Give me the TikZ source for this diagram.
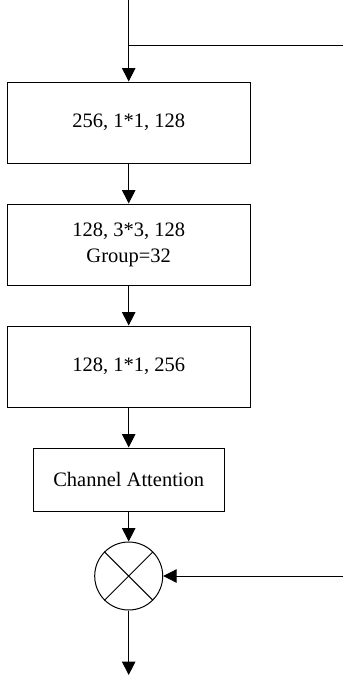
\documentclass[tikz,border=0pt]{standalone}
\usepackage{fontspec}
\setmainfont{Liberation Serif}
\usetikzlibrary{arrows.meta}
\begin{document}
\begin{tikzpicture}[x=1pt,y=-1pt, line width=1pt,
  box/.style={draw, rectangle, inner sep=0pt, align=center, font=\fontsize{20.5}{26}\selectfont},
  arr/.style={-{Triangle[width=13.5pt,length=13.5pt]}}]
\useasboundingbox (0,0) rectangle (343,680);
\coordinate (top) at (128.7,0);
\coordinate (split) at (128.7,45);
\coordinate (skipend) at (343,45);
\coordinate (rin) at (343,576);
\coordinate (out) at (128.7,675);
\node[box, minimum width=243pt, minimum height=81pt] (b1) at (128.7,122.5) {256, 1*1, 128};
\node[box, minimum width=243pt, minimum height=81pt] (b2) at (128.7,244.5) {128, 3*3, 128\\Group=32};
\node[box, minimum width=243pt, minimum height=81pt] (b3) at (128.7,366.5) {128, 1*1, 256};
\node[box, minimum width=191pt, minimum height=63pt] (b4) at (128.7,479.5) {Channel Attention};
\node[draw, circle, minimum size=68pt, inner sep=0pt] (m) at (128.7,576) {};
\draw (m.north east) -- (m.south west);
\draw (m.north west) -- (m.south east);
\draw[arr] (top) -- (b1.north);
\draw (split) -- (skipend);
\draw[arr] (b1.south) -- (b2.north);
\draw[arr] (b2.south) -- (b3.north);
\draw[arr] (b3.south) -- (b4.north);
\draw[arr] (b4.south) -- (m.north);
\draw[arr] (rin) -- (m.east);
\draw[arr] (m.south) -- (out);
\end{tikzpicture}
\end{document}
